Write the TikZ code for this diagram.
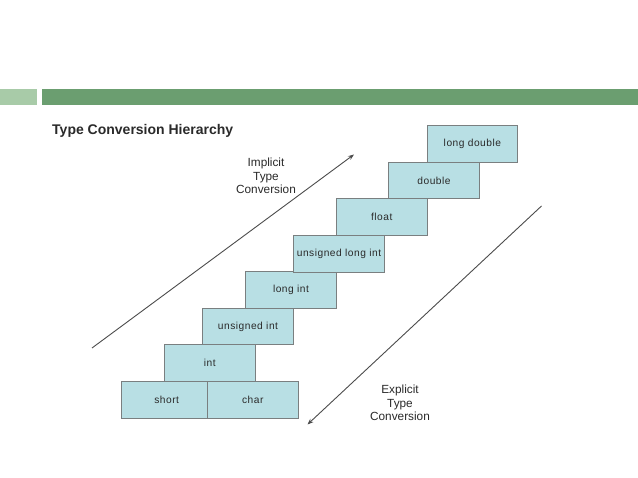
\documentclass[tikz,border=0pt]{standalone}
\usepackage{fontspec}
\setmainfont{Liberation Sans}
\newfontfamily\boxfont[LetterSpace=5]{Liberation Sans}
\usetikzlibrary{arrows.meta}
\definecolor{barlight}{HTML}{A8CBA8}
\definecolor{bardark}{HTML}{6B9E70}
\definecolor{boxfill}{HTML}{B8DFE4}
\definecolor{boxline}{HTML}{7A7F80}
\definecolor{txt}{HTML}{2A2A2A}
\tikzset{
  tbox/.style={draw=boxline, line width=0.9pt, fill=boxfill, minimum width=90.5pt, minimum height=36.7pt, inner sep=0pt, anchor=north west, font=\boxfont\fontsize{10.2}{12}\selectfont, text=txt},
  conv/.style={draw=black!70, line width=0.9pt, -{Stealth[length=6pt,width=4.5pt]}},
  lbl/.style={align=center, font=\fontsize{11.8}{13.5}\selectfont, text=txt, inner sep=0pt}
}
\begin{document}
\begin{tikzpicture}[x=1pt,y=-1pt]
\useasboundingbox (0,0) rectangle (638,478);
\fill[white] (0,0) rectangle (638,478);
\fill[barlight] (0,89.3) rectangle (37,105);
\fill[bardark] (41.7,89.3) rectangle (638,105);
\node[anchor=west, inner sep=0pt, font=\bfseries\fontsize{14}{16}\selectfont, text=txt] (title) at (52,131) {Type Conversion Hierarchy};
\node[tbox] (short) at (121,381) {short};
\node[tbox, minimum width=90.7pt] (char) at (207,381) {char};
\node[tbox] (int) at (164,344.3) {int};
\node[tbox] (uint) at (202.3,307.7) {unsigned int};
\node[tbox] (lint) at (245.3,271) {long int};
\node[tbox] (ulint) at (293.3,235) {unsigned long int};
\node[tbox] (float) at (336,198.3) {float};
\node[tbox] (double) at (388.3,161.7) {double};
\node[tbox] (ldouble) at (426.7,125) {long double};
\coordinate (i1) at (92,348);
\coordinate (i2) at (354,154.5);
\coordinate (e1) at (541.5,206);
\coordinate (e2) at (307.5,424.5);
\draw[conv] (i1) -- (i2);
\draw[conv] (e1) -- (e2);
\node[lbl] (impl) at (266,176) {Implicit\\Type\\Conversion};
\node[lbl] (expl) at (400,403) {Explicit\\Type\\Conversion};
\end{tikzpicture}
\end{document}
